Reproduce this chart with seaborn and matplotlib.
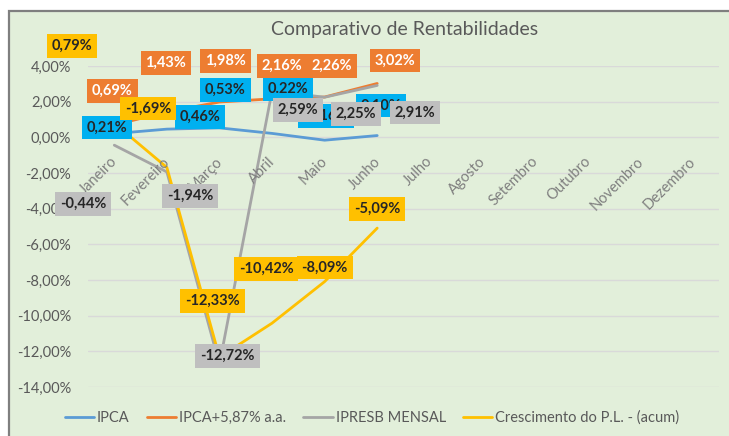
import matplotlib
matplotlib.use("Agg")
import matplotlib.pyplot as plt
from matplotlib.patches import Rectangle
from matplotlib.lines import Line2D
import seaborn as sns
import pandas as pd

# ---------------- data ----------------
months = ["Janeiro", "Fevereiro", "Março", "Abril", "Maio", "Junho", "Julho",
          "Agosto", "Setembro", "Outubro", "Novembro", "Dezembro"]
series_names = ["IPCA", "IPCA+5,87% a.a.", "IPRESB MENSAL", "Crescimento do P.L. - (acum)"]
ipca = [0.21, 0.46, 0.53, 0.22, -0.16, 0.10]
ipca_meta = [0.69, 1.43, 1.98, 2.16, 2.26, 3.02]
ipresb = [-0.44, -1.94, -12.72, 2.59, 2.25, 2.91]
cresc_pl = [0.79, -1.69, -12.33, -10.42, -8.09, -5.09]
ipca_labels = ["0,21%", "0,46%", "0,53%", "0.22%", "-0,16%", "0,10%"]
yticks = [-14, -12, -10, -8, -6, -4, -2, 0, 2, 4]

# ---------------- style ----------------
W, H, DPI = 729, 436, 100
BG = "#E2EFDA"
colors = ["#5B9BD5", "#ED7D31", "#A5A5A5", "#FFC000"]
label_bg = ["#00B0F0", "#ED7D31", "#BFBFBF", "#FFC000"]
label_fg = ["#262626", "#FFFFFF", "#262626", "#262626"]
# label offsets in pixels (dx, dy up)
offsets = [
    [(-7, 6), (33, 12), (6, 38), (16, 44), (1, 24), (4, 30)],
    [(-2, 34), (-1, 49), (6, 41), (10, 33), (7, 31), (18, 23)],
    [(-31, -59), (23, -24), (8, 8), (26, -19), (31, -17), (38, -27)],
    [(-42, 77), (-19, 59), (-7, 56), (-6, 54), (0, 14), (0, 19)],
]

sns.set_theme(style="white")
plt.rcParams["font.family"] = ["Lato", "DejaVu Sans"]

fig = plt.figure(figsize=(W / DPI, H / DPI), dpi=DPI)
fig.patch.set_facecolor("white")
fig.patches.append(Rectangle((9 / W, -0.05), 1.0, (H - 11) / H + 0.05,
                             transform=fig.transFigure, facecolor=BG,
                             edgecolor="#7F7F7F", lw=1.6, zorder=-10))

ax = fig.add_axes([88 / W, (H - 387) / H, (719 - 88) / W, (387 - 66) / H])
ax.set_facecolor("none")

all_vals = [ipca, ipca_meta, ipresb, cresc_pl]
df = pd.DataFrame({
    "x": [i for s in all_vals for i in range(len(s))],
    "valor": [v for s in all_vals for v in s],
    "serie": [name for name, s in zip(series_names, all_vals) for _ in s],
})
sns.lineplot(data=df, x="x", y="valor", hue="serie", hue_order=series_names,
             palette=colors, linewidth=2.0, legend=False, ax=ax, sort=False)

ax.set_xlim(-0.5, 11.5)
ax.set_ylim(-14, 4)
ax.set_yticks(yticks)
ax.set_yticklabels([f"{t:,.2f}".replace(".", ",") + "%" for t in yticks],
                   fontsize=10.5, color="#595959")
ax.tick_params(axis="y", length=0, pad=12)
ax.set_xticks([])
ax.set_xlabel("")
ax.set_ylabel("")
for sp in ax.spines.values():
    sp.set_visible(False)
ax.grid(axis="y", color="#D9D9D9", lw=1.0)
ax.grid(axis="x", visible=False)
ax.set_axisbelow(True)

# category labels at the 0 line
for i, m in enumerate(months):
    ax.annotate(m, xy=(i, 0), xytext=(1, -22), textcoords="offset pixels",
                rotation=45, rotation_mode="anchor", ha="right", va="center",
                fontsize=10.5, color="#7F7F7F", annotation_clip=False)

# data labels
for k, vals in enumerate(all_vals):
    for j, v in enumerate(vals):
        txt = ipca_labels[j] if k == 0 else (f"{v:.2f}".replace(".", ",") + "%")
        dx, dy = offsets[k][j]
        ax.annotate(txt, xy=(j, v), xytext=(dx, dy), textcoords="offset pixels",
                    ha="center", va="center", fontsize=10.5, fontweight="bold",
                    color=label_fg[k], annotation_clip=False, zorder=10 + k,
                    bbox=dict(boxstyle="square,pad=0.33", fc=label_bg[k], ec="none"))

fig.text(405 / W, 1 - 30 / H, "Comparativo de Rentabilidades", ha="center",
         va="center", fontsize=14, color="#595959")

handles = [Line2D([0], [0], color=c, lw=2.0) for c in colors]
fig.legend(handles, series_names, loc="center", bbox_to_anchor=(372 / W, 1 - 418 / H),
           ncol=4, frameon=False, fontsize=10.5, handlelength=2.0, handletextpad=0.2,
           columnspacing=1.2, labelcolor="#595959")

fig.savefig("out.png", dpi=DPI, facecolor=fig.get_facecolor())
